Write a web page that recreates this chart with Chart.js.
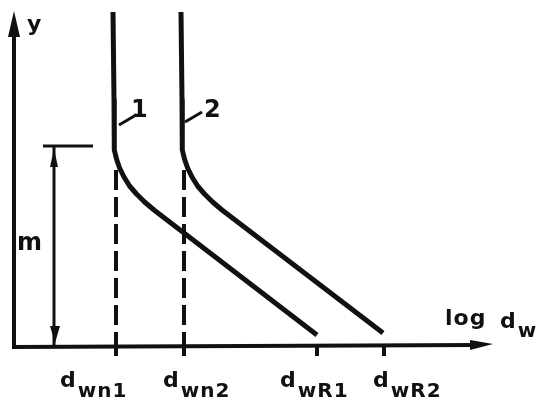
<!DOCTYPE html>
<html>
<head>
<meta charset="utf-8">
<script src="https://cdn.jsdelivr.net/npm/chart.js@4/dist/chart.umd.min.js"></script>
<style>
  html, body { margin: 0; padding: 0; background: #fff; }
  #wrap { width: 537px; height: 399px; }
</style>
</head>
<body>
<div id="wrap"><canvas id="chart"></canvas></div>
<script>
// diagram units: x = log d_w, y = height (origin at the axes corner)
const curve1X = [99, 100, 100, 100.6, 102.5, 105.6, 110, 115.6, 122.5, 130.6, 140, 303];
const curve1Y = [335, 247, 207, 197, 188, 179, 170, 161, 153, 145, 137, 12];
const curve2X = [167, 168, 168, 168.6, 170.5, 173.6, 178, 183.6, 190.5, 198.6, 208, 369];
const curve2Y = [335, 247, 207, 197, 188, 179, 170, 161, 153, 145, 137, 14];

// d_wn positions (dashed verticals) and d_wR ends (ticks)
const wnX = [102, 170];
const wnTop = 177;
const wnBottom = -8;
const wrX = [303, 370];

const xLabels = [
  { base: "d", sub: "wn1", x: 46 },
  { base: "d", sub: "wn2", x: 149 },
  { base: "d", sub: "wR1", x: 266 },
  { base: "d", sub: "wR2", x: 359 }
];
const curveNames = ["1", "2"];
const mHeight = 201;   // level marked "m"
const mX = 40;

const INK = "#111";

const pts = (xs, ys) => xs.map((x, i) => ({ x, y: ys[i] }));

const datasets = [
  { data: pts(curve1X, curve1Y), borderWidth: 5 },
  { data: pts(curve2X, curve2Y), borderWidth: 5 },
  ...wnX.map(x => ({
    data: [{ x, y: wnTop }, { x, y: wnBottom }],
    borderWidth: 4,
    borderDash: [20, 7]
  }))
].map(d => ({
  ...d,
  showLine: true,
  borderColor: INK,
  pointRadius: 0,
  tension: 0,
  clip: false,
  borderCapStyle: "butt",
  borderJoinStyle: "round"
}));

function tri(ctx, pts) {
  ctx.beginPath();
  ctx.moveTo(pts[0][0], pts[0][1]);
  ctx.lineTo(pts[1][0], pts[1][1]);
  ctx.lineTo(pts[2][0], pts[2][1]);
  ctx.closePath();
  ctx.fill();
}

function line(ctx, x1, y1, x2, y2, w) {
  ctx.lineWidth = w;
  ctx.beginPath();
  ctx.moveTo(x1, y1);
  ctx.lineTo(x2, y2);
  ctx.stroke();
}

function subText(ctx, base, sub, x, y, size, subSize, drop) {
  ctx.font = "bold " + size + "px 'DejaVu Sans'";
  ctx.fillText(base, x, y);
  const w = ctx.measureText(base).width;
  ctx.font = "bold " + subSize + "px 'DejaVu Sans'";
  ctx.fillText(sub, x + w + 1, y + drop);
}

const diagram = {
  id: "diagram",
  afterDatasetsDraw(chart) {
    const { ctx, scales } = chart;
    const X = v => scales.x.getPixelForValue(v);
    const Y = v => scales.y.getPixelForValue(v);
    ctx.save();
    ctx.strokeStyle = INK;
    ctx.fillStyle = INK;
    ctx.lineCap = "butt";

    // axes
    const ox = X(0), oy = Y(0);
    line(ctx, ox, oy + 2, ox, Y(312), 4);
    tri(ctx, [[ox, Y(336)], [ox - 6, Y(310)], [ox + 6, Y(310)]]);
    line(ctx, ox - 2, oy, X(462), Y(2), 4);
    tri(ctx, [[X(479), Y(3)], [X(456), Y(7)], [X(456), Y(-3)]]);

    // ticks under the axis
    [...wnX, ...wrX].forEach(v => line(ctx, X(v), oy, X(v), Y(-9), 4));

    // m bracket
    line(ctx, X(29), Y(mHeight), X(79), Y(mHeight), 3);
    line(ctx, X(mX), Y(mHeight), X(mX), oy, 3);
    tri(ctx, [[X(mX), Y(mHeight - 3)], [X(mX) - 4, Y(mHeight - 21)], [X(mX) + 4, Y(mHeight - 21)]]);
    tri(ctx, [[X(mX + 1), Y(4)], [X(mX + 1) - 5, Y(21)], [X(mX + 1) + 5, Y(21)]]);

    // leaders for curve numbers
    line(ctx, X(105), Y(222), X(122), Y(232), 3);
    line(ctx, X(171), Y(225), X(188), Y(235), 3);

    ctx.textBaseline = "alphabetic";
    ctx.textAlign = "left";
    ctx.letterSpacing = "1px";
    ctx.font = "bold 24px 'DejaVu Sans'";
    ctx.fillText(curveNames[0], X(117), Y(230));
    ctx.fillText(curveNames[1], X(190), Y(230));
    ctx.fillText("m", X(3), Y(97));
    ctx.font = "bold 22px 'DejaVu Sans'";
    ctx.fillText("y", X(13), Y(316));

    xLabels.forEach(l => subText(ctx, l.base, l.sub, X(l.x), Y(-40), 22, 20, 10));

    ctx.font = "bold 22px 'DejaVu Sans'";
    ctx.fillText("log", X(431), Y(22));
    subText(ctx, "d", "w", X(486), Y(19), 22, 20, 9);
    ctx.restore();
  }
};

new Chart(document.getElementById("chart"), {
  type: "scatter",
  data: { datasets },
  options: {
    responsive: true,
    maintainAspectRatio: false,
    animation: false,
    layout: { padding: { left: 14, right: 0, top: 12, bottom: 52 } },
    plugins: { legend: { display: false }, tooltip: { enabled: false } },
    scales: {
      x: { type: "linear", min: 0, max: 523, display: false },
      y: { type: "linear", min: 0, max: 335, display: false }
    }
  },
  plugins: [diagram]
});
</script>
</body>
</html>
